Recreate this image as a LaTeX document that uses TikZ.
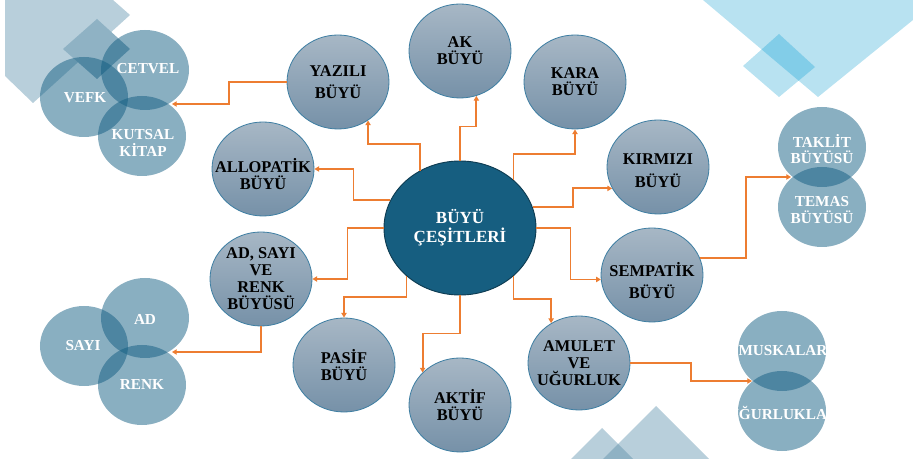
\documentclass[tikz,border=0pt]{standalone}
\usepackage{fontspec}
\setmainfont{Liberation Serif}
\usetikzlibrary{shapes.geometric,arrows.meta}
\definecolor{arrowc}{HTML}{ED7D31}
\definecolor{bubtop}{HTML}{A7B7C5}
\definecolor{bubbot}{HTML}{7691A8}
\definecolor{bubline}{HTML}{3F7FA3}
\definecolor{centc}{HTML}{165E80}
\definecolor{centline}{HTML}{0E3C52}
\definecolor{vennc}{HTML}{0F5B80}
\definecolor{bgA}{HTML}{B8CFDB}
\definecolor{bgAd}{HTML}{8FB2C4}
\definecolor{bgB}{HTML}{B8E2F1}
\definecolor{bgBd}{HTML}{82CDE8}
\begin{document}
\begin{tikzpicture}[x=0.03cm,y=-0.03cm,
	bub/.style={ellipse,draw=bubline,line width=0.7pt,top color=bubtop,bottom color=bubbot,minimum width=3.06cm,minimum height=2.82cm,inner sep=0pt},
	cbub/.style={ellipse,draw=centline,line width=0.8pt,fill=centc,minimum width=4.56cm,minimum height=4.02cm,inner sep=0pt},
	btxt/.style={align=center,inner sep=0pt,font=\fontsize{14}{14.5}\selectfont\bfseries},
	venn/.style={ellipse,fill=vennc,fill opacity=0.49,minimum width=2.64cm,minimum height=2.4cm,inner sep=0pt},
	vtxt/.style={align=center,inner sep=0pt,text=white,font=\fontsize{13}{14}\selectfont\bfseries},
	arr/.style={-{Triangle[length=4pt,width=4.5pt]},arrowc,line width=1.6pt}]
	\useasboundingbox (0,0) rectangle (913,459);

	% background shapes
	\fill[bgA] (5,0) -- (113,0) -- (130,15) -- (33,103) -- (5,76) -- cycle;
	\fill[bgAd] (97,19) -- (130,49) -- (97,79) -- (63,49) -- cycle;
	\fill[bgB] (703,0) -- (913,0) -- (913,20) -- (818,97) -- cycle;
	\fill[bgB] (779,34) -- (815,67) -- (779,97) -- (743,66) -- cycle;
	\begin{scope}
		\clip (703,0) -- (913,0) -- (913,20) -- (818,97) -- cycle;
		\fill[bgBd] (779,34) -- (815,67) -- (779,97) -- (743,66) -- cycle;
	\end{scope}
	\fill[bgA] (602,428) -- (633,459) -- (571,459) -- cycle;
	\fill[bgA] (656,406) -- (709,459) -- (603,459) -- cycle;
	\begin{scope}
		\clip (602,428) -- (633,459) -- (571,459) -- cycle;
		\fill[bgAd] (656,406) -- (709,459) -- (603,459) -- cycle;
	\end{scope}

	% groups of circles
	\node[venn] (cetvel) at (145,70) {};
	\node[venn] (vefk) at (84,97) {};
	\node[venn] (kutsal) at (142,136) {};
	\node[venn] (ad) at (145,318) {};
	\node[venn] (sayi) at (84,346) {};
	\node[venn] (renk) at (142,385) {};
	\node[venn] (taklit) at (822,147) {};
	\node[venn] (temas) at (822,207) {};
	\node[venn] (muskalar) at (782,351) {};
	\node[venn] (ugurluklar) at (782,411) {};
	\node[vtxt] (cetvel-t) at (148,69) {CETVEL};
	\node[vtxt] (vefk-t) at (85,98) {VEFK};
	\node[vtxt] (kutsal-t) at (143,143) {KUTSAL\\KİTAP};
	\node[vtxt] (ad-t) at (145,319) {AD};
	\node[vtxt] (sayi-t) at (83,346) {SAYI};
	\node[vtxt] (renk-t) at (142,385) {RENK};
	\node[vtxt] (taklit-t) at (822,149) {TAKLİT\\BÜYÜSÜ};
	\node[vtxt] (temas-t) at (822,210) {TEMAS\\BÜYÜSÜ};
	\node[vtxt] (muskalar-t) at (783,351) {MUSKALAR};
	\node[vtxt] (ugurluklar-t) at (783,413) {UĞURLUKLAR};
	\coordinate (cetvel-in) at (172,104);
	\coordinate (ad-in) at (172,352);
	\coordinate (taklit-in) at (791,177);
	\coordinate (muskalar-in) at (752,381);

	% center and types
	\node[cbub] (cesit) at (460,228) {};
	\node[btxt,text=white,font=\fontsize{14.5}{15}\selectfont\bfseries] (cesit-t) at (cesit) {BÜYÜ\\[1.5pt]ÇEŞİTLERİ};
	\node[bub] (yazili) at (338,82) {};
	\node[bub] (ak) at (460,51) {};
	\node[bub] (kara) at (575,82) {};
	\node[bub] (kirmizi) at (658,167) {};
	\node[bub] (allopatik) at (263,169) {};
	\node[bub] (adsayi) at (261,279) {};
	\node[bub] (sempatik) at (652,275) {};
	\node[bub] (pasif) at (344,365) {};
	\node[bub] (aktif) at (460,405) {};
	\node[bub] (amulet) at (579,363) {};
	\node[btxt] (yazili-t) at (yazili) {YAZILI\\[4pt]BÜYÜ};
	\node[btxt] (ak-t) at (ak) {AK\\BÜYÜ};
	\node[btxt] (kara-t) at (kara) {KARA\\BÜYÜ};
	\node[btxt,yshift=-3pt] (kirmizi-t) at (kirmizi) {KIRMIZI\\[5pt]BÜYÜ};
	\node[btxt,yshift=-4pt] (allopatik-t) at (allopatik) {ALLOPATİK\\BÜYÜ};
	\node[btxt] (adsayi-t) at (adsayi) {AD, SAYI\\VE\\RENK\\BÜYÜSÜ};
	\node[btxt,yshift=-5pt] (sempatik-t) at (sempatik) {SEMPATİK\\[4pt]BÜYÜ};
	\node[btxt] (pasif-t) at (pasif) {PASİF\\BÜYÜ};
	\node[btxt] (aktif-t) at (aktif) {AKTİF\\BÜYÜ};
	\node[btxt] (amulet-t) at (amulet) {AMULET\\VE\\UĞURLUK};

	% connectors
	\draw[arr] (cesit.125) -- ++(0,-27) -| (yazili.-52);
	\draw[arr] (cesit.north) -- ++(0,-34) -| (ak.-70);
	\draw[arr] (cesit.42) -- ++(0,-26) -| (kara.south);
	\draw[arr] (cesit.16) -- ++(40,0) |- (kirmizi.205);
	\draw[arr] (cesit.east) -- ++(34,0) |- (sempatik.185);
	\draw[arr] (cesit.-42) -- ++(0,23) -| (amulet.125);
	\draw[arr] (cesit.south) -- ++(0,38) -| (aktif.139);
	\draw[arr] (cesit.-138) -- ++(0,21) -| (pasif.north);
	\draw[arr] (cesit.west) -- ++(-36,0) |- (adsayi.east);
	\draw[arr] (cesit.158) -- ++(-37,0) |- (allopatik.east);
	\draw[arr] (yazili.west) -- ++(-58,0) |- (cetvel-in);
	\draw[arr] (adsayi.south) |- (ad-in);
	\draw[arr] (sempatik.20) -- ++(46,0) |- (taklit-in);
	\draw[arr] (amulet.east) -- ++(61,0) |- (muskalar-in);
\end{tikzpicture}
\end{document}
